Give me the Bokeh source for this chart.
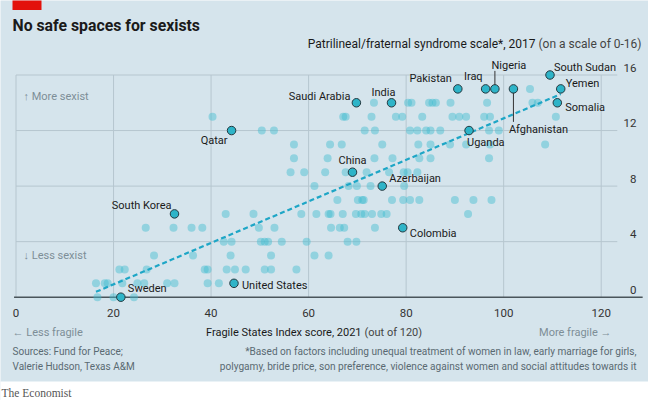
import numpy as np
from bokeh.plotting import figure
from bokeh.models import Range1d
from bokeh.core.properties import value
from bokeh.embed import file_html
from bokeh.resources import INLINE

# ---------------- data ----------------
# unlabelled countries: Fragile States Index (x) grouped by syndrome score (y)
row_0 = [16.7, 20.0, 24.2]
row_1 = [16.4, 18.2, 18.8, 21.8, 24.9, 26.3, 31.0, 32.5, 39.3, 41.6]
row_2 = [21.2, 22.3, 26.8, 38.7, 39.3, 43.2, 44.9, 47.1, 51.0, 52.3, 57.5]
row_3 = [28.3, 36.3, 44.0, 52.3, 61.2, 64.1]
row_4 = [42.6, 44.2, 50.2, 51.0, 51.7, 54.5, 59.6, 68.0, 69.8]
row_5 = [26.6, 32.3, 36.0, 38.2, 49.8, 53.0, 64.6, 66.4, 67.3, 73.6]
row_6 = [43.0, 48.7, 58.5, 61.6, 64.1, 64.5, 67.0, 69.7, 70.8, 71.5, 73.0, 74.9, 76.0, 92.7]
row_7 = [65.9, 70.1, 71.0, 71.3, 77.1, 79.4, 80.8, 82.7, 90.0, 93.8, 97.5]
row_8 = [61.2, 68.2, 69.9, 72.7, 79.6]
row_9 = [56.3, 59.1, 63.4, 67.6, 71.9, 76.5, 79.5, 80.3, 82.3]
row_10 = [57.0, 63.9, 73.5, 77.2, 82.7, 85.0, 97.0]
row_11 = [57.0, 64.4, 66.8, 75.1, 82.5, 85.0, 89.0, 92.3, 97.2, 108.5]
row_12 = [50.4, 52.9, 71.5, 73.6, 80.8, 82.3, 84.1, 85.0, 87.0, 97.0, 99.0]
row_13 = [40.3, 67.1, 67.6, 72.9, 77.9, 79.2, 83.3, 89.5, 90.9, 92.3, 96.0, 97.2, 110.7]
row_14 = [73.4, 80.4, 81.1, 84.7, 85.4, 86.1, 89.1, 96.6, 105.9, 107.0]
row_15 = [105.4]
rows = [row_0, row_1, row_2, row_3, row_4, row_5, row_6, row_7, row_8,
        row_9, row_10, row_11, row_12, row_13, row_14, row_15]

# labelled countries
names = ["Sweden", "United States", "South Korea", "Colombia", "Azerbaijan", "China",
         "Qatar", "Saudi Arabia", "India", "Pakistan", "Iraq", "Nigeria",
         "Afghanistan", "South Sudan", "Yemen", "Somalia", "Uganda"]
named_fsi = [21.5, 44.7, 32.5, 79.3, 75.1, 69.0, 44.2, 69.8, 77.0, 90.6, 96.3, 98.2,
             102.0, 109.5, 111.7, 111.0, 92.9]
named_pfs = [0, 1, 6, 5, 8, 9, 12, 14, 14, 15, 15, 15, 15, 16, 15, 14, 12]

x_ticks = [0, 20, 40, 60, 80, 100, 120]
y_ticks = [0, 4, 8, 12, 16]

# ---------------- layout / style ----------------
# label offsets in pixels (dx right, dy down) and alignment
label_layout = {
    "Sweden": (7, -9, "left"), "United States": (8, 2, "left"),
    "South Korea": (-3, -8, "right"), "Colombia": (7, 6, "left"),
    "Azerbaijan": (7, -8, "left"), "China": (0, -12, "center"),
    "Qatar": (-4, 10, "right"), "Saudi Arabia": (-6, -6, "right"),
    "India": (-8, -10, "center"), "Pakistan": (-6, -10, "right"),
    "Iraq": (-3, -12, "right"), "Nigeria": (14, -23, "center"),
    "Afghanistan": (-4.5, 41, "left"), "South Sudan": (4, -8, "left"),
    "Yemen": (5, -5, "left"), "Somalia": (8, 5, "left"), "Uganda": (-2, 12, "left"),
}
leaders = {"Nigeria": (-18, -4), "Afghanistan": (4, 33)}

BG = "#d5e4ec"
GRID = "#b6c6cf"
TEAL = "#2eb4c8"
LIGHT = "#40bcd0"
DARK = "#1a1a1a"
GREY = "#7d8e97"
SRC = "#5a6a72"
FONT = value("Roboto")

W, H = 648, 400
PX_X = 4.8767   # px per x unit
PX_Y = 13.8875  # px per y unit
X0_PX = 15.5    # px of x=0
Y0_PX = 296.7   # px of y=0 (from top)

def tx(X):  # page px -> data x
    return (X - X0_PX) / PX_X

def ty(Y):  # page px -> data y
    return (Y0_PX - Y) / PX_Y

p = figure(width=W, height=H, output_backend="svg", toolbar_location=None,
           x_range=Range1d(-X0_PX / PX_X, (W - X0_PX) / PX_X),
           y_range=Range1d((Y0_PX - H) / PX_Y, Y0_PX / PX_Y),
           x_axis_location=None, y_axis_location=None, min_border=0, title=None)
p.grid.visible = False
p.outline_line_color = None
p.background_fill_color = BG
p.border_fill_color = BG

# white footer band
p.quad(left=[tx(-5)], right=[tx(660)], bottom=[ty(420)], top=[ty(381)],
       fill_color="white", line_color=None)

# red tag
p.quad(left=[tx(12)], right=[tx(41)], bottom=[ty(9.5)], top=[ty(-2)],
       fill_color="#e3120b", line_color=None)

# grid
p.segment(x0=x_ticks, y0=[0] * len(x_ticks), x1=x_ticks, y1=[16] * len(x_ticks),
          line_color=GRID, line_width=1)
p.segment(x0=[0] * 4, y0=y_ticks[1:], x1=[123.3] * 4, y1=y_ticks[1:],
          line_color=GRID, line_width=1)
p.segment(x0=[-0.4], y0=[0], x1=[128.5], y1=[0], line_color="#4a555b", line_width=1.6)

# points
ox = [v for r in rows for v in r]
oy = [i for i, r in enumerate(rows) for _ in r]

# trend (least squares fit over all countries)
allx = np.array(ox + named_fsi, dtype=float)
ally = np.array(oy + named_pfs, dtype=float)
slope, icpt = np.polyfit(allx, ally, 1)
xs = np.array([allx.min(), allx.max()])
p.scatter(ox, oy, size=8, fill_color=LIGHT, fill_alpha=0.45, line_color=None)
p.line(xs, slope * xs + icpt, line_color="#1ea6c6", line_width=2.2, line_dash="5 3")
p.scatter(named_fsi, named_pfs, size=8.5, fill_color=TEAL, line_color="#24383f",
          line_width=1)

# leader lines
for n, (d0, d1) in leaders.items():
    i = names.index(n)
    p.segment(x0=[named_fsi[i]], y0=[named_pfs[i] - d0 / PX_Y],
              x1=[named_fsi[i]], y1=[named_pfs[i] - d1 / PX_Y],
              line_color="#333333", line_width=1)

# country labels
for align in ("left", "right", "center"):
    sel = [i for i, n in enumerate(names) if label_layout[n][2] == align]
    p.text(x=[named_fsi[i] + label_layout[names[i]][0] / PX_X for i in sel],
           y=[named_pfs[i] - label_layout[names[i]][1] / PX_Y for i in sel],
           text=[names[i] for i in sel], text_font=FONT, text_font_size="11px",
           text_color=DARK, text_align=align, text_baseline="middle")

# tick labels
p.text(x=[tx(636)] * len(y_ticks), y=[t + 7.5 / PX_Y for t in y_ticks],
       text=[str(t) for t in y_ticks], text_font=FONT, text_font_size="11.5px",
       text_color="#333333", text_align="right", text_baseline="middle")
p.text(x=x_ticks, y=[ty(312)] * len(x_ticks), text=[str(t) for t in x_ticks],
       text_font=FONT, text_font_size="11.5px", text_color="#333333",
       text_align="center", text_baseline="middle")

def txt(X, Y, s, size="11px", color=DARK, align="left", style="normal", font=FONT):
    p.text(x=[tx(X)], y=[ty(Y)], text=[s], text_font=font, text_font_size=size,
           text_color=color, text_align=align, text_baseline="middle",
           text_font_style=style)

txt(12, 25, "No safe spaces for sexists", size="15.8px", style="bold")
txt(535, 43, "Patrilineal/fraternal syndrome scale*, 2017", size="12px", align="right")
txt(538, 43, "(on a scale of 0-16)", size="12px", color="#444444")
txt(23, 96, "\u2191 More sexist", size="11px", color=GREY)
txt(23, 255, "\u2193 Less sexist", size="11px", color=GREY)
txt(12, 332, "\u2190 Less fragile", size="11px", color=GREY)
txt(611, 332, "More fragile \u2192", size="11px", color=GREY, align="right")
txt(361, 332, "Fragile States Index score, 2021", size="11px", align="right")
txt(364, 332, "(out of 120)", size="11px", color="#444444")
txt(12, 351, "Sources: Fund for Peace;", size="10px", color=SRC)
txt(12, 366, "Valerie Hudson, Texas A&M", size="10px", color=SRC)
txt(636, 351, "*Based on factors including unequal treatment of women in law, early marriage for girls,",
    size="10.1px", color=SRC, align="right")
txt(636, 366, "polygamy, bride price, son preference, violence against women and social attitudes towards it",
    size="10.1px", color=SRC, align="right")
txt(1, 392, "The Economist", size="11.5px", color="#555555", font=value("Liberation Serif"))

open("out.html", "w").write(file_html(p, INLINE))
